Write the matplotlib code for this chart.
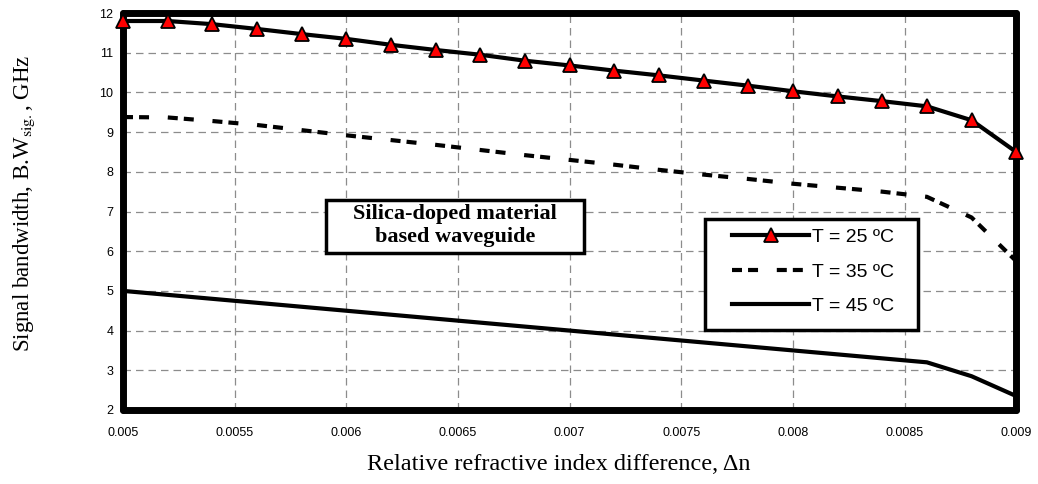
import matplotlib.pyplot as plt
from matplotlib.patches import Rectangle

## ---------------------------------------------------------------------
## data
dn = [0.005, 0.0052, 0.0054, 0.0056, 0.0058, 0.006, 0.0062, 0.0064, 0.0066, 0.0068, 0.007,
      0.0072, 0.0074, 0.0076, 0.0078, 0.008, 0.0082, 0.0084, 0.0086, 0.0088, 0.009]
bw_25 = [11.8, 11.8, 11.72, 11.6, 11.47, 11.35, 11.2, 11.07, 10.95, 10.8, 10.68,
         10.55, 10.43, 10.3, 10.17, 10.03, 9.9, 9.78, 9.65, 9.3, 8.5]
bw_35 = [9.38, 9.37, 9.28, 9.18, 9.05, 8.92, 8.8, 8.68, 8.55, 8.42, 8.3,
         8.18, 8.05, 7.93, 7.82, 7.7, 7.6, 7.5, 7.37, 6.85, 5.75]
bw_45 = [5.0, 4.9, 4.8, 4.7, 4.6, 4.5, 4.4, 4.3, 4.2, 4.1, 4.0,
         3.9, 3.8, 3.7, 3.6, 3.5, 3.4, 3.3, 3.2, 2.85, 2.35]
labels = ['T = 25 ºC', 'T = 35 ºC', 'T = 45 ºC']
x_ticks = [0.005, 0.0055, 0.006, 0.0065, 0.007, 0.0075, 0.008, 0.0085, 0.009]
x_ticklabels = ['0.005', '0.0055', '0.006', '0.0065', '0.007', '0.0075', '0.008', '0.0085', '0.009']
y_ticks = [2, 3, 4, 5, 6, 7, 8, 9, 10, 11, 12]

plt.rcParams['mathtext.fontset'] = 'stix'

fig = plt.figure(figsize=(10.38, 4.84), dpi=100)
ax = fig.add_axes([0.1185, 0.153, 0.8605, 0.820])

## ---------------------------------------------------------------------
## curves
ax.plot(dn, bw_25, color='black', lw=3, marker='^', ms=10.5, mfc='red', mec='black',
        mew=1.3, label=labels[0], clip_on=False, zorder=5)
ax.plot(dn, bw_35, color='black', lw=3, dashes=(2.4, 1.45, 2.4, 4.5), label=labels[1], zorder=4)
ax.plot(dn, bw_45, color='black', lw=3, label=labels[2], zorder=4)

ax.set_xlim(0.005, 0.009)
ax.set_ylim(2, 12)
ax.set_xticks(x_ticks)
ax.set_xticklabels(x_ticklabels)
ax.set_yticks(y_ticks)
ax.tick_params(length=0, labelsize=9)
ax.tick_params(axis='x', pad=12)
ax.tick_params(axis='y', pad=7)
for t in ax.get_xticklabels() + ax.get_yticklabels():
    t.set_fontfamily('Liberation Sans')

ax.grid(True, color='#8c8c8c', lw=0.9, dashes=(6, 4))
for s in ax.spines.values():
    s.set_linewidth(5)
    s.set_capstyle('round')

ax.set_xlabel('Relative refractive index difference, Δn', fontfamily='Liberation Serif',
              fontsize=17.5)
ax.xaxis.set_label_coords(0.488, -0.112)
ax.set_ylabel(r'Signal bandwidth, B.W$_{\mathrm{sig.}}$, GHz', fontfamily='Liberation Serif',
              fontsize=16.5)
ax.yaxis.set_label_coords(-0.096, 0.52)

## ---------------------------------------------------------------------
## annotation box
ax.add_patch(Rectangle((0.227, 0.395), 0.289, 0.134, transform=ax.transAxes,
                       fill=True, facecolor='white', edgecolor='black', lw=2.5, zorder=6))
ax.text(0.3715, 0.464, 'Silica-doped material\nbased waveguide', transform=ax.transAxes,
        ha='center', va='center', fontfamily='Liberation Serif', fontweight='bold',
        fontsize=16, linespacing=1.22, zorder=7)

## legend with its own frame
ax.add_patch(Rectangle((0.652, 0.2015), 0.238, 0.280, transform=ax.transAxes,
                       fill=True, facecolor='white', edgecolor='black', lw=2.5, zorder=7))
leg = ax.legend(loc='upper left', bbox_to_anchor=(0.682, 0.457), borderaxespad=0,
                numpoints=1, prop={'family': 'Liberation Sans', 'size': 14},
                handlelength=3.97, handletextpad=0.15, labelspacing=0.87, borderpad=0,
                frameon=False)
leg.set_zorder(8)

plt.savefig('out.png', dpi=100)
